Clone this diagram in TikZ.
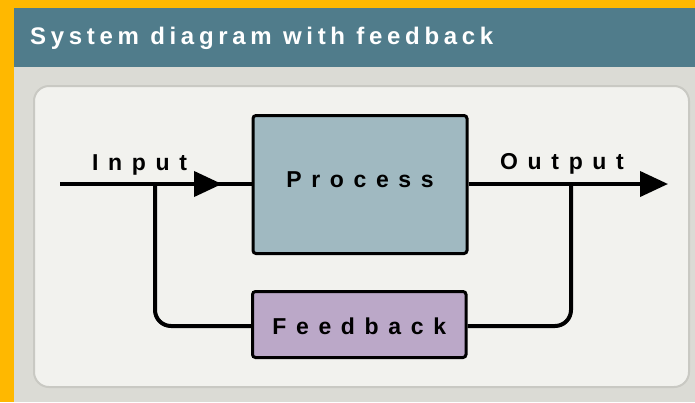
\documentclass[tikz,border=0pt]{standalone}
\usepackage{fontspec}
\setmainfont{Liberation Sans}
\usetikzlibrary{arrows.meta}
\definecolor{orangeb}{HTML}{FFB800}
\definecolor{teal}{HTML}{507C8B}
\definecolor{bggrey}{HTML}{DBDBD5}
\definecolor{panel}{HTML}{F2F2EE}
\definecolor{panelline}{HTML}{C9C9C3}
\definecolor{procfill}{HTML}{A0B9C1}
\definecolor{fbfill}{HTML}{BBA8C8}
\newfontfamily\lblfont[LetterSpace=42]{Liberation Sans Bold}
\newfontfamily\ttlfont[LetterSpace=19.5]{Liberation Sans Bold}
\tikzset{
  blockbox/.style={draw=black, line width=3pt, rounded corners=3pt, inner sep=0pt,
    font=\lblfont\fontsize{23}{27}\selectfont},
  conn/.style={draw=black, line width=4pt},
  lbl/.style={inner sep=0pt, anchor=base west, font=\lblfont\fontsize{23}{27}\selectfont},
  tip/.style={-{Triangle[length=28pt,width=25pt]}}
}
\begin{document}
\begin{tikzpicture}[x=1pt,y=-1pt]
\useasboundingbox (0,0) rectangle (695,402);
% background
\fill[orangeb] (0,0) rectangle (695,402);
\fill[bggrey] (14,8) rectangle (695,402);
\fill[teal] (14,8) rectangle (695,67);
\node[inner sep=0pt, anchor=base west, text=white, font=\ttlfont\fontsize{24}{28}\selectfont] (title) at (30,44) {System diagram with feedback};
% panel
\draw[fill=panel, draw=panelline, line width=2pt, rounded corners=15pt] (34,86) rectangle (689,387);
% blocks
\node[blockbox, fill=procfill, minimum width=214pt, minimum height=138pt] (proc) at (360,184.5) {\raisebox{4.5pt}[\height][\depth]{Process}};
\node[blockbox, fill=fbfill, minimum width=213.5pt, minimum height=66pt] (fb) at (359.25,324.5) {\raisebox{-1.5pt}[\height][\depth]{Feedback}};
% coordinates
\coordinate (instart) at (60,184);
\coordinate (intip) at (222,184);
\coordinate (jl) at (155,184);
\coordinate (jlb) at (155,326);
\coordinate (jr) at (571,184);
\coordinate (jrb) at (571,326);
\coordinate (outend) at (668,184);
% connectors
\draw[conn] (instart) -- (instart -| proc.west);
\draw[conn, tip] (instart) -- (intip);
\draw[conn, tip] (proc.east |- outend) -- (outend);
\draw[conn, rounded corners=16pt] (jl) -- (jlb) -- (jlb -| fb.west);
\draw[conn, rounded corners=16pt] (jr) -- (jrb) -- (jrb -| fb.east);
% labels
\node[lbl] (inlbl) at (92,170) {Input};
\node[lbl] (outlbl) at (500,169) {Output};
\end{tikzpicture}
\end{document}
